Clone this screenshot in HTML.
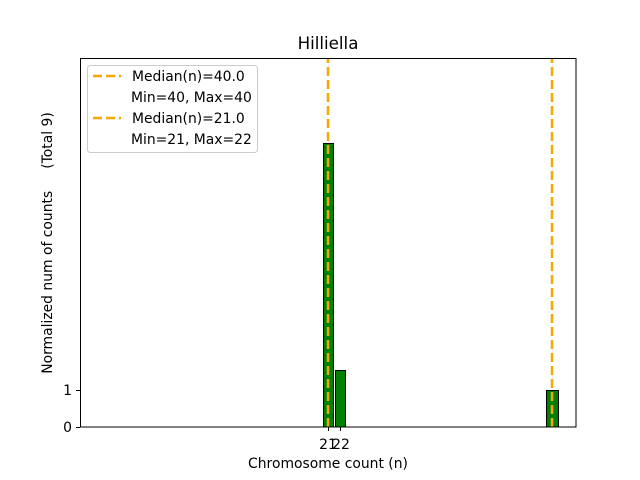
<!DOCTYPE html>
<html><head><meta charset="utf-8"><style>
body{margin:0;background:#fff;}
svg{display:block;font-family:"DejaVu Sans","Liberation Sans",sans-serif;}
</style></head><body>
<svg width="640" height="480" viewBox="0 0 640 480" xmlns="http://www.w3.org/2000/svg">
<rect width="640" height="480" fill="#fff"/>
<text x="328" y="49" font-size="16.7" text-anchor="middle">Hilliella</text>
<g fill="#008000" stroke="#000" stroke-width="1">
<rect x="323.5" y="143.5" width="10" height="283.5"/>
<rect x="335.5" y="370.5" width="10" height="56.5"/>
<rect x="546.5" y="390.5" width="12" height="36.5"/>
</g>
<g stroke="#F5A800" stroke-width="2.5" stroke-dasharray="9,4">
<line x1="328" y1="427" x2="328" y2="58"/>
<line x1="552" y1="427" x2="552" y2="58"/>
</g>
<rect x="80.5" y="58.5" width="495.5" height="368.5" fill="none" stroke="#000" stroke-width="1"/>
<g stroke="#000" stroke-width="1">
<line x1="76" y1="427.5" x2="80" y2="427.5"/>
<line x1="76" y1="390.5" x2="80" y2="390.5"/>
<line x1="328.5" y1="427" x2="328.5" y2="431"/>
<line x1="340.5" y1="427" x2="340.5" y2="431"/>
</g>
<g font-size="13.9" text-anchor="end">
<text x="72" y="432">0</text>
<text x="72" y="395">1</text>
</g>
<g font-size="13.9" text-anchor="middle">
<text x="328" y="449">21</text>
<text x="341" y="449">22</text>
</g>
<text x="328" y="468" font-size="13.9" text-anchor="middle">Chromosome count (n)</text>
<text transform="translate(52,243) rotate(-90)" font-size="13.9" text-anchor="middle" xml:space="preserve" style="white-space:pre">Normalized num of counts     (Total 9)</text>
<rect x="87.5" y="65.5" width="170" height="87" rx="3" fill="#fff" fill-opacity="0.8" stroke="#ccc"/>
<g stroke="#F5A800" stroke-width="2.5" stroke-dasharray="9,4">
<line x1="93" y1="76" x2="121" y2="76"/>
<line x1="93" y1="118" x2="121" y2="118"/>
</g>
<g font-size="13.9">
<text x="132" y="81">Median(n)=40.0</text>
<text x="131" y="102">Min=40, Max=40</text>
<text x="132" y="123">Median(n)=21.0</text>
<text x="131" y="144">Min=21, Max=22</text>
</g>
</svg>
</body></html>
